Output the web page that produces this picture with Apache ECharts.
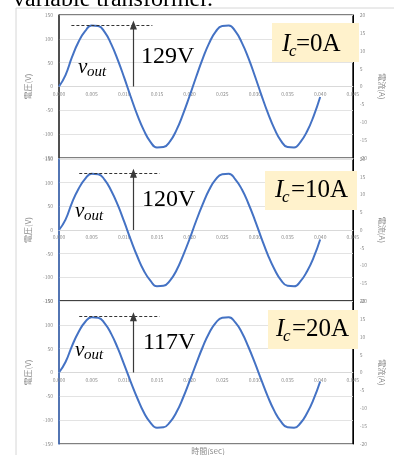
<!DOCTYPE html>
<html>
<head>
<meta charset="utf-8">
<script src="https://cdn.jsdelivr.net/npm/echarts@6/dist/echarts.min.js"></script>
<style>
  html, body { margin: 0; padding: 0; background: #fff; }
  #chart { width: 394px; height: 455px; }
</style>
</head>
<body>
<div id="chart"></div>
<script>
// time axis (sec)
const times = [0.000, 0.001, 0.002, 0.003, 0.004, 0.005, 0.006, 0.007, 0.008, 0.009,
  0.010, 0.011, 0.012, 0.013, 0.014, 0.015, 0.016, 0.017, 0.018, 0.019,
  0.020, 0.021, 0.022, 0.023, 0.024, 0.025, 0.026, 0.027, 0.028, 0.029,
  0.030, 0.031, 0.032, 0.033, 0.034, 0.035, 0.036, 0.037, 0.038, 0.039, 0.040];

// vout (V) for Ic = 0A, 10A, 20A
const vout0A = [0, 24, 62, 94, 116, 128, 127, 114, 89, 56, 18, -22, -60, -92, -116, -128, -127, -115, -91, -58,
  -20, 20, 58, 91, 115, 127, 128, 116, 92, 60, 22, -18, -56, -89, -114, -127, -128, -116, -94, -62, -22];
const vout10A = [0, 22, 58, 87, 108, 119, 118, 106, 83, 53, 17, -21, -56, -86, -107, -119, -118, -107, -85, -54,
  -19, 19, 54, 85, 107, 118, 119, 107, 86, 56, 21, -17, -53, -83, -106, -118, -119, -108, -87, -58, -20];
const vout20A = [0, 22, 56, 85, 106, 116, 115, 103, 81, 51, 16, -20, -54, -84, -105, -116, -115, -104, -83, -53,
  -18, 18, 53, 83, 104, 115, 116, 105, 84, 54, 20, -16, -51, -81, -103, -115, -116, -106, -85, -56, -19];

const peaks = [129, 120, 117];
const peakLabels = ['129V', '120V', '117V'];
const currentLabels = ['=0A', '=10A', '=20A'];

// layout of the three panels
const panels = [
  { top: 15, height: 143, leftColor: '#404040', box: [272, 23, 87, 39], I: [282, 44], c: [289, 52], eq: [296, 44],
    peakText: [141, 57], v: [78, 67], out: [87, 72], dash: [0.0019, 0.0143] },
  { top: 159, height: 142, leftColor: '#4472C4', box: [265, 171, 92, 39], I: [275, 190], c: [282, 198], eq: [291, 190],
    peakText: [142, 200], v: [75, 211], out: [84, 216], dash: [0.0031, 0.0154] },
  { top: 301, height: 143, leftColor: '#4472C4', box: [268, 310, 90, 39], I: [276, 329], c: [283, 337], eq: [292, 329],
    peakText: [143, 343], v: [75, 350], out: [84, 355], dash: [0.0031, 0.0154] }
];
const seriesData = [vout0A, vout10A, vout20A];

const chart = echarts.init(document.getElementById('chart'));
const gray = '#8c8c8c';
const serif = '"Liberation Serif", "DejaVu Serif", serif';
const sans = '"Noto Sans CJK JP", "Noto Sans", sans-serif';

const grids = [], xAxes = [], yAxes = [], series = [], graphics = [];

panels.forEach(function (p, i) {
  grids.push({ left: 59, width: 300, top: p.top, height: p.height, show: true,
    borderColor: '#000', borderWidth: 1, backgroundColor: 'transparent' });
  // x axis sits on the zero line (middle of the symmetric voltage range)
  xAxes.push({
    type: 'value', gridIndex: i, min: 0, max: 0.045, interval: 0.005,
    position: 'bottom', offset: -p.height / 2,
    axisLine: { onZero: false, lineStyle: { color: '#d9d9d9' } },
    axisTick: { show: false },
    splitLine: { show: false },
    axisLabel: { fontSize: 5, color: gray, margin: 5, fontFamily: sans,
      formatter: function (v) { return v.toFixed(3); } }
  });
  yAxes.push({
    type: 'value', gridIndex: i, position: 'left', min: -150, max: 150, interval: 50,
    name: '電圧(V)', nameLocation: 'middle', nameGap: 26,
    nameTextStyle: { fontSize: 8, color: gray, fontFamily: sans },
    axisLine: { show: true, onZero: false, lineStyle: { color: p.leftColor, width: 1.5 } },
    axisTick: { show: false },
    splitLine: { show: true, lineStyle: { color: '#e3e3e3' } },
    axisLabel: { fontSize: 5, color: gray, margin: 6, fontFamily: sans }
  });
  yAxes.push({
    type: 'value', gridIndex: i, position: 'right', min: -20, max: 20, interval: 5,
    name: '電流(A)', nameLocation: 'middle', nameGap: 22, nameRotate: -90,
    nameTextStyle: { fontSize: 8, color: gray, fontFamily: sans },
    axisLine: { show: true, onZero: false, lineStyle: { color: '#000' } },
    axisTick: { show: false },
    splitLine: { show: false },
    axisLabel: { fontSize: 5, color: gray, margin: 7, fontFamily: sans }
  });
  series.push({
    type: 'line', xAxisIndex: i, yAxisIndex: i * 2, smooth: true, showSymbol: false,
    lineStyle: { color: '#4472C4', width: 2 },
    data: times.map(function (t, k) { return [t, seriesData[i][k]]; }),
    markLine: {
      silent: true, animation: false, label: { show: false }, symbol: ['none', 'none'],
      data: [
        [{ coord: [p.dash[0], peaks[i]], lineStyle: { type: [3, 2], color: '#333', width: 1 } },
         { coord: [p.dash[1], peaks[i]] }],
        [{ coord: [0.0114, 0], symbol: 'none', lineStyle: { type: 'solid', color: '#3a3a3a', width: 1.2 } },
         { coord: [0.0114, peaks[i]], symbol: 'triangle', symbolSize: [7, 9] }]
      ]
    }
  });

  // annotation box and labels
  graphics.push({ type: 'rect', shape: { x: p.box[0], y: p.box[1], width: p.box[2], height: p.box[3] },
    style: { fill: '#FFF2CC' }, z: 10 });
  graphics.push({ type: 'text', x: p.I[0], y: p.I[1], z: 11,
    style: { text: 'I', font: 'italic 25px ' + serif, fill: '#000', verticalAlign: 'middle' } });
  graphics.push({ type: 'text', x: p.c[0], y: p.c[1], z: 11,
    style: { text: 'c', font: 'italic 17px ' + serif, fill: '#000', verticalAlign: 'middle' } });
  graphics.push({ type: 'text', x: p.eq[0], y: p.eq[1], z: 11,
    style: { text: currentLabels[i], font: '25px ' + serif, fill: '#000', verticalAlign: 'middle' } });
  graphics.push({ type: 'text', x: p.peakText[0], y: p.peakText[1], z: 11,
    style: { text: peakLabels[i], font: '24px ' + serif, fill: '#000', verticalAlign: 'middle' } });
  graphics.push({ type: 'text', x: p.v[0], y: p.v[1], z: 11,
    style: { text: 'v', font: 'italic 21px ' + serif, fill: '#000', verticalAlign: 'middle' } });
  graphics.push({ type: 'text', x: p.out[0], y: p.out[1], z: 11,
    style: { text: 'out', font: 'italic 15px ' + serif, fill: '#000', verticalAlign: 'middle' } });
});

// page decorations
graphics.push({ type: 'line', shape: { x1: 16, y1: 8, x2: 16, y2: 455 }, style: { stroke: '#d6d6d6', lineWidth: 1 } });
graphics.push({ type: 'line', shape: { x1: 16, y1: 8, x2: 394, y2: 8 }, style: { stroke: '#d6d6d6', lineWidth: 1 } });
graphics.push({ type: 'text', x: 13, y: 0, z: 11,
  style: { text: 'variable transformer.', font: '24px ' + serif, fill: '#000', verticalAlign: 'middle' } });
graphics.push({ type: 'text', x: 208, y: 451, z: 11,
  style: { text: '時間(sec)', font: '8px ' + sans, fill: gray, align: 'center', verticalAlign: 'middle' } });

chart.setOption({
  animation: false,
  grid: grids,
  xAxis: xAxes,
  yAxis: yAxes,
  series: series,
  graphic: graphics
});

window.addEventListener('resize', function () {
  chart.resize();
});
</script>
</body>
</html>
